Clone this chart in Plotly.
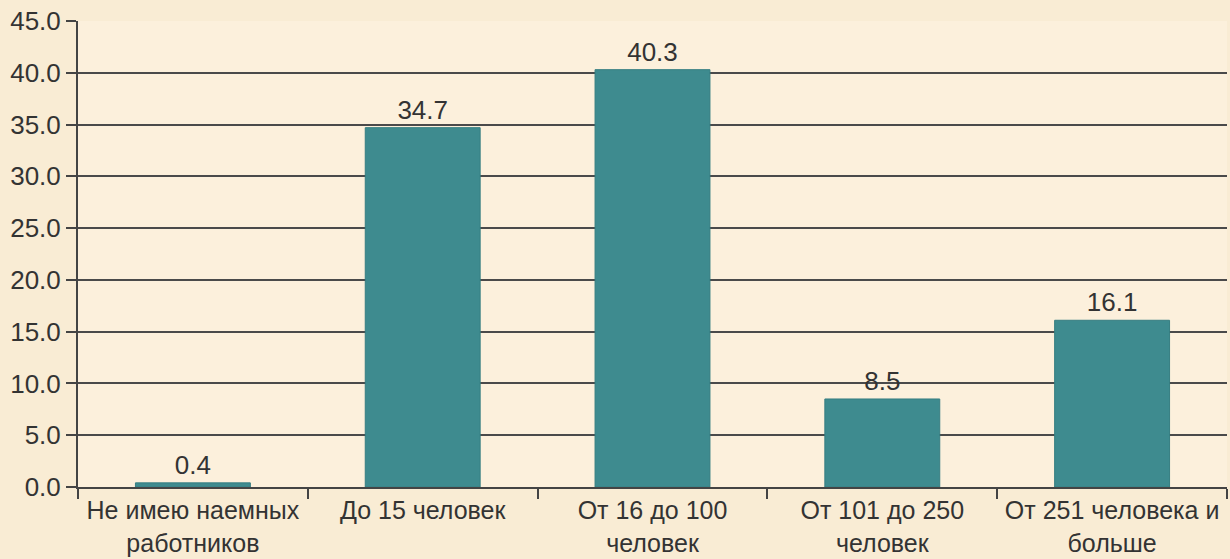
import plotly.graph_objects as go

categories = ["Не имею наемных<br>работников", "До 15 человек", "От 16 до 100<br>человек",
              "От 101 до 250<br>человек", "От 251 человека и<br>больше"]
values = [0.4, 34.7, 40.3, 8.5, 16.1]
y_ticks = [0, 5, 10, 15, 20, 25, 30, 35, 40, 45]

FONT = "Liberation Sans, Arial, sans-serif"

fig = go.Figure(go.Bar(
    x=categories, y=values,
    text=[f"{v:.1f}" for v in values], textposition="outside",
    cliponaxis=False,
    textfont=dict(size=26, color="#333333", family=FONT),
    marker=dict(color="#3e8b8f", line=dict(color="#367e82", width=1)),
    width=0.5,
))

fig.update_layout(
    width=1230, height=559,
    margin=dict(l=78, r=3, t=21, b=72),
    paper_bgcolor="#f9ecd4", plot_bgcolor="#fcf0dc",
    font=dict(family=FONT, size=26, color="#333333"),
    showlegend=False,
)
fig.update_xaxes(
    type="category", tickson="boundaries", ticks="outside", ticklen=10, tickwidth=2,
    tickcolor="#444444", showline=True, linecolor="#444444", linewidth=2,
    showgrid=False, automargin=False, tickfont=dict(size=25), tickangle=0,
)
fig.update_yaxes(
    range=[0, 45], tickvals=y_ticks, ticktext=[f"{v:.1f}" for v in y_ticks],
    ticks="outside", ticklen=10, tickwidth=2, tickcolor="#444444",
    showline=True, linecolor="#444444", linewidth=2,
    showgrid=True, gridcolor="#4a4a4a", gridwidth=2, zeroline=False,
    automargin=False, tickfont=dict(size=26),
)
fig.write_html("out.html", config={"displayModeBar": False},
               post_script="document.body.style.margin='0';document.body.style.overflow='hidden';")
